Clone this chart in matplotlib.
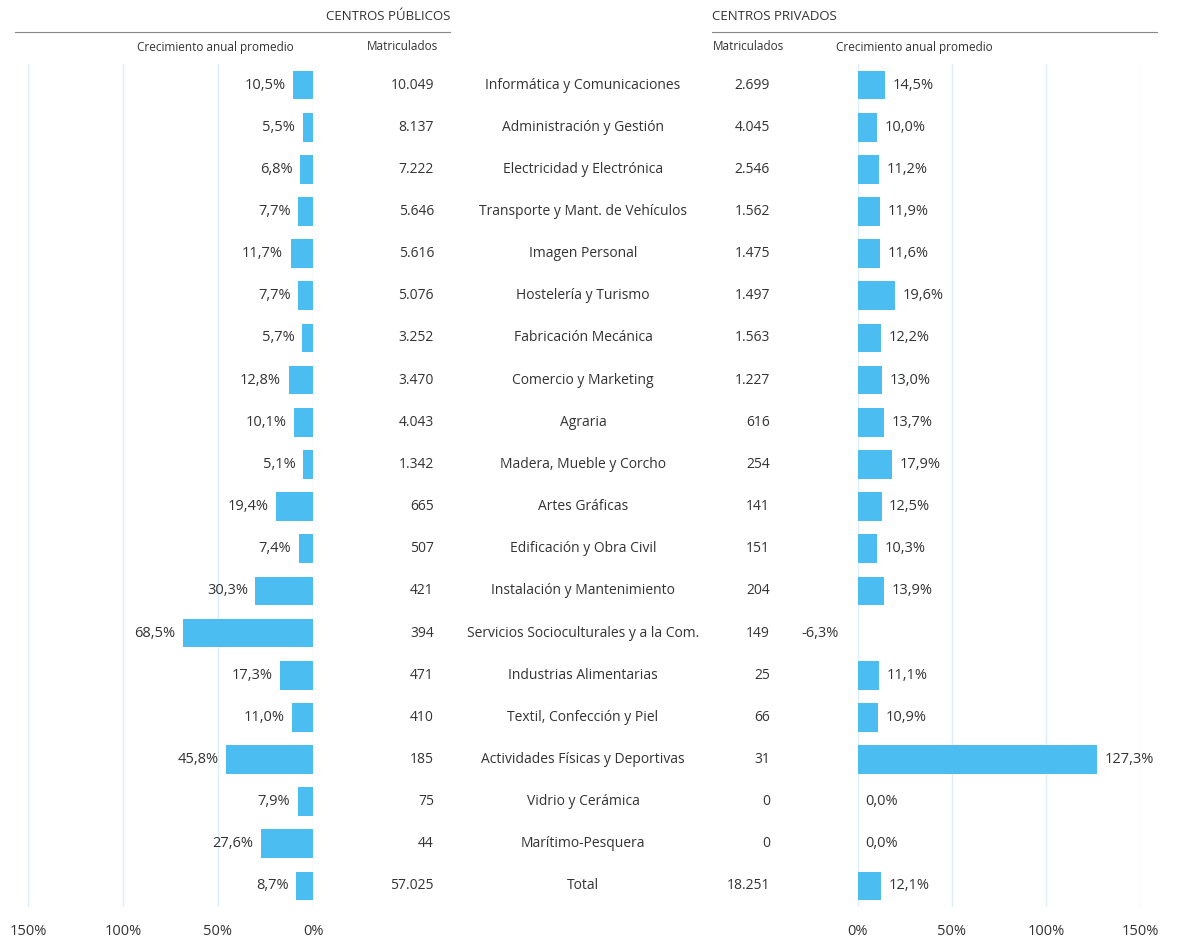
import matplotlib.pyplot as plt
import numpy as np

plt.rcParams['font.family'] = ['Open Sans', 'DejaVu Sans']

categorias = ["Informática y Comunicaciones", "Administración y Gestión", "Electricidad y Electrónica",
              "Transporte y Mant. de Vehículos", "Imagen Personal", "Hostelería y Turismo",
              "Fabricación Mecánica", "Comercio y Marketing", "Agraria", "Madera, Mueble y Corcho",
              "Artes Gráficas", "Edificación y Obra Civil", "Instalación y Mantenimiento",
              "Servicios Socioculturales y a la Com.", "Industrias Alimentarias", "Textil, Confección y Piel",
              "Actividades Físicas y Deportivas", "Vidrio y Cerámica", "Marítimo-Pesquera", "Total"]
crec_publicos = [10.5, 5.5, 6.8, 7.7, 11.7, 7.7, 5.7, 12.8, 10.1, 5.1, 19.4, 7.4, 30.3, 68.5,
                 17.3, 11.0, 45.8, 7.9, 27.6, 8.7]
matr_publicos = ["10.049", "8.137", "7.222", "5.646", "5.616", "5.076", "3.252", "3.470", "4.043",
                 "1.342", "665", "507", "421", "394", "471", "410", "185", "75", "44", "57.025"]
crec_privados = [14.5, 10.0, 11.2, 11.9, 11.6, 19.6, 12.2, 13.0, 13.7, 17.9, 12.5, 10.3, 13.9, -6.3,
                 11.1, 10.9, 127.3, 0.0, 0.0, 12.1]
matr_privados = ["2.699", "4.045", "2.546", "1.562", "1.475", "1.497", "1.563", "1.227", "616", "254",
                 "141", "151", "204", "149", "25", "66", "31", "0", "0", "18.251"]
ticks = [0, 50, 100, 150]

W, H = 1180, 946
fig = plt.figure(figsize=(W / 100, H / 100), dpi=100)
azul, rojo, gris = "#4BBDF0", "#E5532B", "#333333"
grid = "#DCEEF8"

def ax_px(x0, x1, y0, y1):
    return fig.add_axes([x0 / W, 1 - y1 / H, (x1 - x0) / W, (y1 - y0) / H])

def fmt(v):
    return f"{v:.1f}%".replace(".", ",")

n = len(categorias)
y = np.arange(n)
top, bot = 64, 907  # pixel extent of rows
axL = ax_px(28, 313, top, bot)
axR = ax_px(858, 1140, top, bot)
for ax, vals, side in [(axL, crec_publicos, "L"), (axR, crec_privados, "R")]:
    ax.set_ylim(n - 0.5, -0.5)
    if side == "L":
        ax.set_xlim(150, 0)
    else:
        ax.set_xlim(0, 150)
    for t in ticks:
        ax.axvline(t, color=grid, lw=1, zorder=0)
    cols = [rojo if v < 0 else azul for v in vals]
    ax.barh(y, vals, height=0.68, color=cols, zorder=2)
    for yi, v in zip(y, vals):
        if side == "L":
            ax.text(v + 4, yi, fmt(v), ha="right", va="center", fontsize=10.5, color=gris)
        elif v < 0:
            ax.text(v - 4, yi, fmt(v), ha="right", va="center", fontsize=10.5, color=gris)
        else:
            ax.text(v + 4, yi, fmt(v), ha="left", va="center", fontsize=10.5, color=gris)
    for s in ax.spines.values():
        s.set_visible(False)
    ax.set_yticks([])
    ax.set_xticks(ticks)
    ax.set_xticklabels([f"{t}%" for t in ticks], fontsize=10.5, color=gris)
    ax.tick_params(axis="x", length=0, pad=12)
    ax.patch.set_alpha(0)

def ftext(x, yp, s, **kw):
    fig.text(x / W, 1 - yp / H, s, color=gris, **kw)

row_h = (bot - top) / n
for i in range(n):
    yp = top + row_h * (i + 0.5)
    ftext(583, yp, categorias[i], ha="center", va="center", fontsize=10)
    ftext(434, yp, matr_publicos[i], ha="right", va="center", fontsize=10)
    ftext(770, yp, matr_privados[i], ha="right", va="center", fontsize=10)

ftext(450, 17, "CENTROS PÚBLICOS", ha="right", va="center", fontsize=9.5)
ftext(712, 17, "CENTROS PRIVADOS", ha="left", va="center", fontsize=9.5)
fig.add_artist(plt.Line2D([15 / W, 450 / W], [1 - 32 / H] * 2, color="#888888", lw=0.8))
fig.add_artist(plt.Line2D([712 / W, 1157 / W], [1 - 32 / H] * 2, color="#888888", lw=0.8))
ftext(215, 47, "Crecimiento anual promedio", ha="center", va="center", fontsize=8.5)
ftext(402, 47, "Matriculados", ha="center", va="center", fontsize=8.5)
ftext(748, 47, "Matriculados", ha="center", va="center", fontsize=8.5)
ftext(914, 47, "Crecimiento anual promedio", ha="center", va="center", fontsize=8.5)

fig.savefig("out.png", dpi=100, facecolor="white")
